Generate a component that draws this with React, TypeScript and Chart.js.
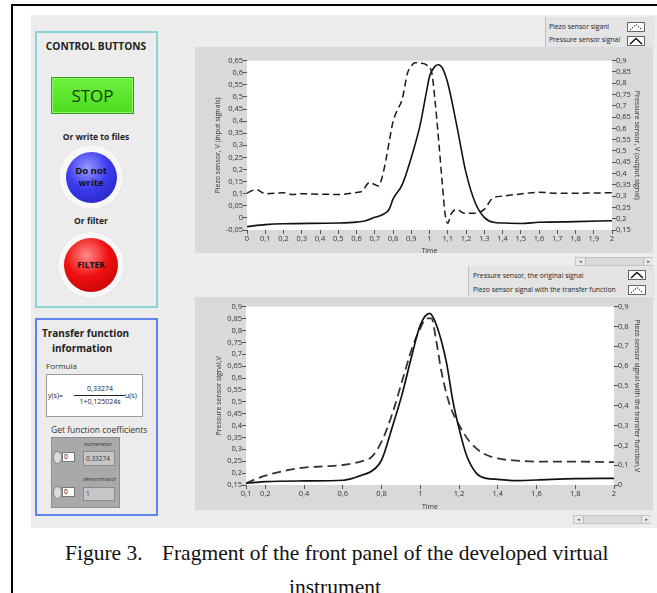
import React, { useEffect, useRef } from "react";
import { Chart, registerables } from "chart.js";

Chart.register(...registerables);

// ---------------- data ----------------
// Top chart: piezo (dashed, left axis) and pressure (solid, right axis)
const TOP_PIEZO_T = [0, 0.05, 0.1, 0.2, 0.25, 0.3, 0.4, 0.5, 0.6, 0.63, 0.67, 0.7, 0.72, 0.74, 0.76, 0.78, 0.8, 0.82, 0.85, 0.88, 0.9, 0.92, 0.95, 0.985, 1.013, 1.03, 1.05, 1.07, 1.085, 1.1, 1.12, 1.15, 1.19, 1.24, 1.3, 1.345, 1.4, 1.5, 1.6, 1.7, 1.8, 1.9, 2];
const TOP_PIEZO_V = [0.103, 0.117, 0.1, 0.104, 0.097, 0.1, 0.098, 0.097, 0.105, 0.11, 0.146, 0.138, 0.132, 0.167, 0.235, 0.318, 0.398, 0.44, 0.49, 0.6, 0.628, 0.642, 0.64, 0.632, 0.598, 0.487, 0.322, 0.143, 0.019, -0.022, 0.019, 0.035, 0.019, 0.019, 0.035, 0.081, 0.09, 0.099, 0.106, 0.102, 0.102, 0.103, 0.104];
const TOP_PRESSURE_T = [0, 0.1, 0.2, 0.5, 0.6, 0.65, 0.7, 0.75, 0.78, 0.8, 0.85, 0.9, 0.95, 0.985, 1.0, 1.03, 1.05, 1.07, 1.1, 1.15, 1.2, 1.25, 1.3, 1.35, 1.4, 1.5, 1.6, 1.8, 2];
const TOP_PRESSURE_V = [0.165, 0.174, 0.178, 0.181, 0.185, 0.191, 0.206, 0.221, 0.243, 0.287, 0.35, 0.47, 0.62, 0.77, 0.83, 0.875, 0.882, 0.868, 0.801, 0.61, 0.404, 0.272, 0.206, 0.184, 0.181, 0.179, 0.184, 0.187, 0.191];

const TOP_X_TICKS = [0, 0.1, 0.2, 0.3, 0.4, 0.5, 0.6, 0.7, 0.8, 0.9, 1, 1.1, 1.2, 1.3, 1.4, 1.5, 1.6, 1.7, 1.8, 1.9, 2];
const TOP_LEFT_TICKS = [-0.05, 0, 0.05, 0.1, 0.15, 0.2, 0.25, 0.3, 0.35, 0.4, 0.45, 0.5, 0.55, 0.6, 0.65];
const TOP_RIGHT_TICKS = [0.15, 0.2, 0.25, 0.3, 0.35, 0.4, 0.45, 0.5, 0.55, 0.6, 0.65, 0.7, 0.75, 0.8, 0.85, 0.9];

// Bottom chart: pressure original (solid, left axis), piezo with transfer function (dashed, right axis)
const BOT_PRESSURE_T = [0.1, 0.15, 0.2, 0.4, 0.6, 0.65, 0.7, 0.75, 0.8, 0.853, 0.905, 0.957, 1.0, 1.048, 1.083, 1.134, 1.169, 1.2, 1.238, 1.29, 1.341, 1.4, 1.48, 1.6, 1.8, 2];
const BOT_PRESSURE_V = [0.157, 0.161, 0.164, 0.167, 0.17, 0.178, 0.192, 0.209, 0.255, 0.388, 0.529, 0.697, 0.823, 0.872, 0.823, 0.669, 0.5, 0.388, 0.276, 0.199, 0.178, 0.174, 0.168, 0.171, 0.177, 0.178];
const BOT_PIEZO_T = [0.1, 0.15, 0.2, 0.3, 0.4, 0.5, 0.6, 0.7, 0.75, 0.8, 0.853, 0.905, 0.957, 1.0, 1.031, 1.057, 1.083, 1.109, 1.152, 1.2, 1.255, 1.324, 1.4, 1.5, 1.6, 1.8, 2];
const BOT_PIEZO_V = [0.008, 0.03, 0.047, 0.072, 0.088, 0.094, 0.101, 0.121, 0.143, 0.219, 0.353, 0.521, 0.69, 0.791, 0.841, 0.841, 0.723, 0.572, 0.404, 0.303, 0.219, 0.16, 0.134, 0.123, 0.118, 0.118, 0.115];

const BOT_X_TICKS = [0.1, 0.2, 0.4, 0.6, 0.8, 1, 1.2, 1.4, 1.6, 1.8, 2];
const BOT_LEFT_TICKS = [0.15, 0.2, 0.25, 0.3, 0.35, 0.4, 0.45, 0.5, 0.55, 0.6, 0.65, 0.7, 0.75, 0.8, 0.85, 0.9];
const BOT_RIGHT_TICKS = [0, 0.1, 0.2, 0.3, 0.4, 0.5, 0.6, 0.7, 0.8, 0.9];

// ---------------- helpers ----------------
const UI_FONT = "'Open Sans', 'DejaVu Sans', sans-serif";
const SERIF = "'Liberation Serif', 'Times New Roman', serif";
const tickFont = { family: "'Open Sans', sans-serif", size: 7.5 };
const titleFont = { family: "'Open Sans', sans-serif", size: 7 };

const fmt = (v: number) => String(Math.round(v * 1000) / 1000).replace(".", ",");

const pts = (t: number[], v: number[]) => t.map((x, i) => ({ x, y: v[i] }));

const plotBg = {
  id: "plotBg",
  beforeDraw(chart: any) {
    const { ctx, chartArea: a } = chart;
    ctx.save();
    ctx.fillStyle = "#ffffff";
    ctx.fillRect(a.left, a.top, a.right - a.left, a.bottom - a.top);
    ctx.restore();
  },
};

function axis(position: string, min: number, max: number, ticks: number[], size: number, title: string, titlePad: any) {
  return {
    type: "linear",
    position,
    min,
    max,
    afterBuildTicks: (s: any) => {
      s.ticks = ticks.map((value) => ({ value }));
    },
    afterFit: (s: any) => {
      if (position === "bottom") s.height = size;
      else s.width = size;
    },
    ticks: {
      autoSkip: false,
      maxRotation: 0,
      minRotation: 0,
      padding: 0,
      color: "#333",
      font: tickFont,
      callback: (v: any) => fmt(Number(v)),
    },
    grid: { drawOnChartArea: false, drawTicks: true, tickLength: 4, tickColor: "#555", tickWidth: 1 },
    border: { display: false },
    title: { display: true, text: title, color: "#333", font: titleFont, padding: titlePad },
  };
}

function LvChart(props: { left: number; top: number; width: number; height: number; build: () => any }) {
  const ref = useRef<HTMLCanvasElement>(null);
  useEffect(() => {
    const chart = new Chart(ref.current as HTMLCanvasElement, props.build());
    return () => chart.destroy();
  }, []);
  return (
    <canvas
      ref={ref}
      width={props.width}
      height={props.height}
      style={{ position: "absolute", left: props.left, top: props.top, width: props.width, height: props.height }}
    />
  );
}

const topConfig = () => ({
  type: "line",
  data: {
    datasets: [
      {
        label: "Piezo sensor siganl",
        data: pts(TOP_PIEZO_T, TOP_PIEZO_V),
        yAxisID: "yL",
        borderColor: "#1a1a1a",
        borderWidth: 1.5,
        borderDash: [7, 4],
        pointRadius: 0,
        cubicInterpolationMode: "monotone",
        fill: false,
      },
      {
        label: "Pressure sensor signal",
        data: pts(TOP_PRESSURE_T, TOP_PRESSURE_V),
        yAxisID: "yR",
        borderColor: "#111",
        borderWidth: 1.6,
        pointRadius: 0,
        cubicInterpolationMode: "monotone",
        fill: false,
      },
    ],
  },
  options: {
    animation: false,
    responsive: false,
    layout: { padding: { top: 13.7, left: 0, right: 0, bottom: 0 } },
    plugins: { legend: { display: false }, tooltip: { enabled: false } },
    scales: {
      x: axis("bottom", 0, 2, TOP_X_TICKS, 25, "Time", { top: 0, bottom: 0 }),
      yL: axis("left", -0.05, 0.65, TOP_LEFT_TICKS, 52, "Piezo sensor, V (input signals)", { top: 19, bottom: 0 }),
      yR: axis("right", 0.15, 0.9, TOP_RIGHT_TICKS, 41, "Pressure sensor, V (output signal)", { top: 12, bottom: 0 }),
    },
  },
  plugins: [plotBg],
});

const botConfig = () => ({
  type: "line",
  data: {
    datasets: [
      {
        label: "Pressure sensor, the original signal",
        data: pts(BOT_PRESSURE_T, BOT_PRESSURE_V),
        yAxisID: "yL",
        borderColor: "#111",
        borderWidth: 1.7,
        pointRadius: 0,
        cubicInterpolationMode: "monotone",
        fill: false,
      },
      {
        label: "Piezo sensor signal with the transfer function",
        data: pts(BOT_PIEZO_T, BOT_PIEZO_V),
        yAxisID: "yR",
        borderColor: "#333",
        borderWidth: 1.8,
        borderDash: [9, 5],
        pointRadius: 0,
        cubicInterpolationMode: "monotone",
        fill: false,
      },
    ],
  },
  options: {
    animation: false,
    responsive: false,
    layout: { padding: { top: 9.7, left: 0, right: 0, bottom: 0 } },
    plugins: { legend: { display: false }, tooltip: { enabled: false } },
    scales: {
      x: axis("bottom", 0.1, 2, BOT_X_TICKS, 26, "Time", { top: 0, bottom: 0 }),
      yL: axis("left", 0.15, 0.9, BOT_LEFT_TICKS, 51, "Pressure sensor signal,V", { top: 20, bottom: 0 }),
      yR: axis("right", 0, 0.9, BOT_RIGHT_TICKS, 39, "Piezo sensor signal with the transfer function,V", { top: 11.5, bottom: 0 }),
    },
  },
  plugins: [plotBg],
});

// ---------------- UI pieces ----------------
const abs = (left: number, top: number, extra: any = {}) => ({ position: "absolute" as const, left, top, ...extra });

function LegendIcon({ dashed, left, top }: { dashed: boolean; left: number; top: number }) {
  return (
    <svg width={18} height={10} style={abs(left, top)}>
      <rect x={0.5} y={0.5} width={17} height={9} fill="#fff" stroke="#666" strokeWidth={1} />
      <polyline
        points="3,8 9,2.5 15,8"
        fill="none"
        stroke="#111"
        strokeWidth={dashed ? 1 : 1.5}
        strokeDasharray={dashed ? "1.5,1.2" : undefined}
      />
    </svg>
  );
}

function Scrollbar({ left, top, width }: { left: number; top: number; width: number }) {
  return (
    <div style={abs(left, top, { width, height: 9, background: "#dadada", border: "1px solid #c4c4c4", boxSizing: "border-box" })}>
      <div style={abs(0, 0, { width: 9, height: 7, background: "#e8e8e8", borderRight: "1px solid #bbb", fontSize: 5, lineHeight: "7px", textAlign: "center", color: "#555" })}>◂</div>
      <div style={abs(width - 11, 0, { width: 9, height: 7, background: "#e8e8e8", borderLeft: "1px solid #bbb", fontSize: 5, lineHeight: "7px", textAlign: "center", color: "#555" })}>▸</div>
    </div>
  );
}

function RoundButton({ cx, cy, outer, inner, colors, label, fontSize }: any) {
  return (
    <>
      <div
        style={abs(cx - outer, cy - outer, {
          width: outer * 2,
          height: outer * 2,
          borderRadius: "50%",
          background: "radial-gradient(circle, #f7f7f7 70%, #d0d0d0 100%)",
          boxShadow: "0 0 1px #bbb",
        })}
      />
      <div
        style={abs(cx - inner, cy - inner, {
          width: inner * 2,
          height: inner * 2,
          borderRadius: "50%",
          background: `radial-gradient(circle at 42% 32%, ${colors[0]} 0%, ${colors[1]} 45%, ${colors[2]} 100%)`,
          display: "flex",
          alignItems: "center",
          justifyContent: "center",
          textAlign: "center",
          fontFamily: UI_FONT,
          fontWeight: 700,
          fontSize,
          lineHeight: 1.25,
          color: "#111",
        })}
      >
        {label}
      </div>
    </>
  );
}

export default function App() {
  return (
    <div style={abs(0, 0, { width: 657, height: 593, overflow: "hidden", background: "#fff", fontFamily: UI_FONT })}>
      {/* outer frame */}
      <div style={abs(11, 4, { width: 646, height: 2, background: "#000" })} />
      <div style={abs(11, 4, { width: 2, height: 589, background: "#000" })} />

      {/* front panel background */}
      <div style={abs(31, 15, { width: 626, height: 513, background: "#ececec" })} />

      {/* control buttons panel */}
      <div style={abs(35, 31, { width: 123, height: 277, border: "2px solid #8cd3d9", boxSizing: "border-box" })} />
      <div style={abs(35, 39, { width: 122, textAlign: "center", fontWeight: 700, fontSize: 10.2, color: "#222", whiteSpace: "nowrap" })}>CONTROL BUTTONS</div>
      <div
        style={abs(51, 77, {
          width: 83,
          height: 37,
          boxSizing: "border-box",
          background: "linear-gradient(#6cf23e, #4edb22)",
          border: "1px solid #3a9a1e",
          boxShadow: "inset 0 0 0 1px #8df76a",
          display: "flex",
          alignItems: "center",
          justifyContent: "center",
          fontSize: 17,
          color: "#163d00",
        })}
      >
        STOP
      </div>
      <div style={abs(35, 131, { width: 122, textAlign: "center", fontWeight: 700, fontSize: 8.5, color: "#222" })}>Or write to files</div>
      <RoundButton cx={91} cy={177} outer={32} inner={25.5} colors={["#9a9aff", "#3c3cf0", "#1c1cb0"]} fontSize={9.5} label={<span>Do not<br />write</span>} />
      <div style={abs(35, 215, { width: 112, textAlign: "center", fontWeight: 700, fontSize: 8.5, color: "#222" })}>Or filter</div>
      <RoundButton cx={91} cy={265} outer={33} inner={27} colors={["#ff8a8a", "#f01010", "#b00000"]} fontSize={8.5} label="FILTER" />

      {/* transfer function panel */}
      <div style={abs(35, 318, { width: 123, height: 198, border: "2px solid #5f83ea", boxSizing: "border-box" })} />
      <div style={abs(42, 326, { fontWeight: 700, fontSize: 10, color: "#222", lineHeight: "15px" })}>
        Transfer function
        <br />
        <span style={{ paddingLeft: 10 }}>information</span>
      </div>
      <div style={abs(46, 360, { fontSize: 8, color: "#333" })}>Formula</div>
      <div style={abs(46, 374, { width: 97, height: 43, background: "#fff", border: "1px solid #9a9a9a", boxSizing: "border-box" })} />
      <div style={abs(48, 390.5, { fontSize: 7, color: "#222" })}>y(s)=</div>
      <div style={abs(75, 383.5, { width: 50, textAlign: "center", fontSize: 7, color: "#222" })}>0,33274</div>
      <div style={abs(74, 395, { width: 51, height: 1, background: "#222" })} />
      <div style={abs(75, 397, { width: 50, textAlign: "center", fontSize: 7, color: "#222" })}>1+0,125024s</div>
      <div style={abs(125, 390.5, { fontSize: 7, color: "#222" })}>u(s)</div>
      <div style={abs(51, 424, { fontSize: 8.5, color: "#333" })}>Get function coefficients</div>
      <div style={abs(51, 437, { width: 69, height: 71, background: "#a9a9a9", border: "1px solid #8c8c8c", boxSizing: "border-box" })} />
      {/* numerator */}
      <div style={abs(84, 440, { fontSize: 5.5, color: "#333" })}>numerator</div>
      <div style={abs(53, 451, { width: 9, height: 13, borderRadius: "50%", background: "#dcdcdc", border: "1px solid #888", boxSizing: "border-box" })} />
      <div style={abs(62, 452, { width: 13, height: 10, background: "#fff", border: "1px solid #777", boxSizing: "border-box", fontSize: 6.5, lineHeight: "8px", paddingLeft: 1 })}>0</div>
      <div style={abs(83, 451, { width: 32, height: 15, background: "#c6c6c6", border: "1px solid #8a8a8a", boxSizing: "border-box", fontSize: 6.5, lineHeight: "13px", paddingLeft: 2, color: "#333" })}>0,33274</div>
      {/* denominator */}
      <div style={abs(83, 475, { fontSize: 5.5, color: "#333" })}>denominator</div>
      <div style={abs(53, 486, { width: 9, height: 13, borderRadius: "50%", background: "#dcdcdc", border: "1px solid #888", boxSizing: "border-box" })} />
      <div style={abs(62, 487, { width: 13, height: 10, background: "#fff", border: "1px solid #777", boxSizing: "border-box", fontSize: 6.5, lineHeight: "8px", paddingLeft: 1 })}>0</div>
      <div style={abs(83, 487, { width: 32, height: 14, background: "#c6c6c6", border: "1px solid #8a8a8a", boxSizing: "border-box", fontSize: 6.5, lineHeight: "12px", paddingLeft: 2, color: "#333" })}>1</div>

      {/* top chart */}
      <div style={abs(545, 17, { width: 108, height: 31, background: "#e4e4e4", borderLeft: "1px solid #c0c0c0", borderBottom: "1px solid #c8c8c8" })} />
      <div style={abs(549, 22, { fontSize: 6.8, color: "#222" })}>Piezo sensor siganl</div>
      <div style={abs(549, 34.5, { fontSize: 6.8, color: "#222" })}>Pressure sensor signal</div>
      <LegendIcon dashed={true} left={627} top={22} />
      <LegendIcon dashed={false} left={627} top={36} />
      <div style={abs(195, 47, { width: 458, height: 206, background: "#d9d9d9" })} />
      <LvChart left={195} top={47} width={458} height={208} build={topConfig} />
      <Scrollbar left={575} top={257} width={78} />

      {/* bottom chart */}
      <div style={abs(468, 266, { width: 185, height: 30, background: "#e4e4e4", borderLeft: "1px solid #c0c0c0" })} />
      <div style={abs(473, 270.5, { fontSize: 6.8, color: "#222" })}>Pressure sensor, the original signal</div>
      <div style={abs(473, 284.5, { fontSize: 6.8, color: "#222" })}>Piezo sensor signal with the transfer function</div>
      <LegendIcon dashed={false} left={628} top={270} />
      <LegendIcon dashed={true} left={628} top={285} />
      <div style={abs(195, 297, { width: 458, height: 213, background: "#d9d9d9" })} />
      <LvChart left={195} top={297} width={458} height={214} build={botConfig} />
      <Scrollbar left={573} top={515} width={78} />

      {/* caption */}
      <div style={abs(65, 541, { fontFamily: SERIF, fontSize: 21.5, color: "#111", whiteSpace: "nowrap", lineHeight: "24px" })}>
        Figure 3.
      </div>
      <div style={abs(162, 541, { fontFamily: SERIF, fontSize: 21.5, color: "#111", whiteSpace: "nowrap", lineHeight: "24px" })}>
        Fragment of the front panel of the developed virtual
      </div>
      <div style={abs(0, 575, { width: 670, textAlign: "center", fontFamily: SERIF, fontSize: 21.5, color: "#111", whiteSpace: "nowrap", lineHeight: "24px" })}>
        instrument
      </div>
    </div>
  );
}
